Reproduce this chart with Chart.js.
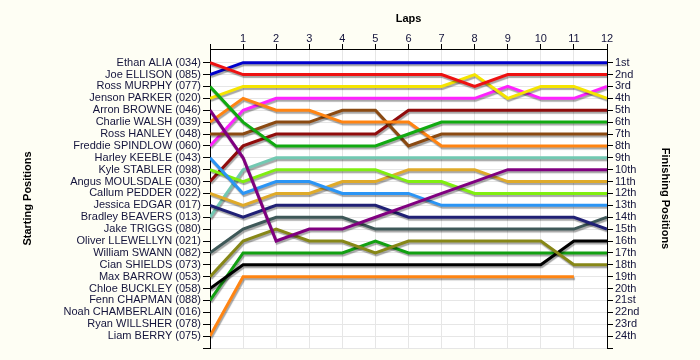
<!DOCTYPE html>
<html>
<head>
<meta charset="utf-8">
<title>Lap Chart</title>
<script src="https://cdn.jsdelivr.net/npm/chart.js@4.4.1/dist/chart.umd.min.js"></script>
<style>
  html, body { margin: 0; padding: 0; background: #fefef4; }
  #wrap { width: 700px; height: 360px; }
</style>
</head>
<body>
<div id="wrap"><canvas id="lapChart" width="700" height="360"></canvas></div>
<script>
// ---------------------------------------------------------------------------
// DATA
// ---------------------------------------------------------------------------

const laps = [0, 1, 2, 3, 4, 5, 6, 7, 8, 9, 10, 11, 12];

// starting grid, position 1 first
const startingNames = [
    'Ethan ALIA (034)', 'Joe ELLISON (085)', 'Ross MURPHY (077)', 'Jenson PARKER (020)',
    'Arron BROWNE (046)', 'Charlie WALSH (039)', 'Ross HANLEY (048)', 'Freddie SPINDLOW (060)',
    'Harley KEEBLE (043)', 'Kyle STABLER (098)', 'Angus MOULSDALE (030)', 'Callum PEDDER (022)',
    'Jessica EDGAR (017)', 'Bradley BEAVERS (013)', 'Jake TRIGGS (080)', 'Oliver LLEWELLYN (021)',
    'William SWANN (082)', 'Cian SHIELDS (073)', 'Max BARROW (053)', 'Chloe BUCKLEY (058)',
    'Fenn CHAPMAN (088)', 'Noah CHAMBERLAIN (016)', 'Ryan WILLSHER (078)', 'Liam BERRY (075)'
];

const finishingLabels = [
    '1st', '2nd', '3rd', '4th', '5th', '6th', '7th', '8th', '9th', '10th', '11th', '12th',
    '13th', '14th', '15th', '16th', '17th', '18th', '19th', '20th', '21st', '22nd', '23rd', '24th'
];

// position at each lap (lap 0 = grid)
const ethanAlia       = [1, 2, 2, 2, 2, 2, 2, 2, 3, 2, 2, 2, 2];
const joeEllison      = [2, 1, 1, 1, 1, 1, 1, 1, 1, 1, 1, 1, 1];
const rossMurphy      = [3, 6, 8, 8, 8, 8, 7, 6, 6, 6, 6, 6, 6];
const jensonParker    = [4, 3, 3, 3, 3, 3, 3, 3, 2, 4, 3, 3, 4];
const arronBrowne     = [5, 9, 16, 15, 15, 14, 13, 12, 11, 10, 10, 10, 10];
const charlieWalsh    = [6, 4, 5, 5, 6, 6, 6, 8, 8, 8, 8, 8, 8];
const rossHanley      = [7, 7, 6, 6, 5, 5, 8, 7, 7, 7, 7, 7, 7];
const freddieSpindlow = [8, 5, 4, 4, 4, 4, 4, 4, 4, 3, 4, 4, 3];
const harleyKeeble    = [9, 12, 11, 11, 12, 12, 12, 13, 13, 13, 13, 13, 13];
const kyleStabler     = [10, 11, 10, 10, 10, 10, 11, 11, 12, 12, 12, 12, 12];
const angusMoulsdale  = [11, 8, 7, 7, 7, 7, 5, 5, 5, 5, 5, 5, 5];
const callumPedder    = [12, 13, 12, 12, 11, 11, 10, 10, 10, 11, 11, 11, 11];
const jessicaEdgar    = [13, 14, 13, 13, 13, 13, 14, 14, 14, 14, 14, 14, 15];
const bradleyBeavers  = [14, 10, 9, 9, 9, 9, 9, 9, 9, 9, 9, 9, 9];
const williamSwann    = [17, 15, 14, 14, 14, 15, 15, 15, 15, 15, 15, 15, 14];
const maxBarrow       = [19, 16, 15, 16, 16, 17, 16, 16, 16, 16, 16, 18, 18];
const chloeBuckley    = [20, 18, 18, 18, 18, 18, 18, 18, 18, 18, 18, 16, 16];
const fennChapman     = [21, 17, 17, 17, 17, 16, 17, 17, 17, 17, 17, 17, 17];
const liamBerry       = [24, 19, 19, 19, 19, 19, 19, 19, 19, 19, 19, 19, null];

const drivers = [
    { name: 'Ethan ALIA (034)',       pos: ethanAlia,       color: '#ee1111' },
    { name: 'Joe ELLISON (085)',      pos: joeEllison,      color: '#0000cc' },
    { name: 'Ross MURPHY (077)',      pos: rossMurphy,      color: '#11aa11' },
    { name: 'Jenson PARKER (020)',    pos: jensonParker,    color: '#f5e400' },
    { name: 'Arron BROWNE (046)',     pos: arronBrowne,     color: '#800080' },
    { name: 'Charlie WALSH (039)',    pos: charlieWalsh,    color: '#ff8412' },
    { name: 'Ross HANLEY (048)',      pos: rossHanley,      color: '#8b4a12' },
    { name: 'Freddie SPINDLOW (060)', pos: freddieSpindlow, color: '#ff22ff' },
    { name: 'Harley KEEBLE (043)',    pos: harleyKeeble,    color: '#2b95f5' },
    { name: 'Kyle STABLER (098)',     pos: kyleStabler,     color: '#80ee10' },
    { name: 'Angus MOULSDALE (030)',  pos: angusMoulsdale,  color: '#900c0c' },
    { name: 'Callum PEDDER (022)',    pos: callumPedder,    color: '#dfaa2a' },
    { name: 'Jessica EDGAR (017)',    pos: jessicaEdgar,    color: '#202075' },
    { name: 'Bradley BEAVERS (013)',  pos: bradleyBeavers,  color: '#72c9b2' },
    { name: 'William SWANN (082)',    pos: williamSwann,    color: '#3e5858' },
    { name: 'Max BARROW (053)',       pos: maxBarrow,       color: '#878717' },
    { name: 'Chloe BUCKLEY (058)',    pos: chloeBuckley,    color: '#000000' },
    { name: 'Fenn CHAPMAN (088)',     pos: fennChapman,     color: '#12a012' },
    { name: 'Liam BERRY (075)',       pos: liamBerry,       color: '#ff8412' }
];

// ---------------------------------------------------------------------------
// PLUGINS
// ---------------------------------------------------------------------------

const plotBackground = {
    id: 'plotBackground',
    beforeDraw(chart) {
        const { ctx, chartArea: a } = chart;
        ctx.save();
        ctx.fillStyle = '#ffffff';
        ctx.fillRect(a.left, a.top, a.right - a.left, a.bottom - a.top);
        ctx.restore();
    }
};

const lineShadow = {
    id: 'lineShadow',
    beforeDatasetsDraw(chart) {
        const ctx = chart.ctx;
        ctx.save();
        ctx.shadowColor = 'rgba(0, 0, 0, 0.35)';
        ctx.shadowOffsetX = 1;
        ctx.shadowOffsetY = 2;
        ctx.shadowBlur = 1;
    },
    afterDatasetsDraw(chart) {
        chart.ctx.restore();
    }
};

// ---------------------------------------------------------------------------
// CHART
// ---------------------------------------------------------------------------

const FONT = "'Liberation Sans', Arial, sans-serif";
const TEXT = '#14143c';
const GRID = '#e6e6e6';
const positionTicks = Array.from({ length: 25 }, (_, i) => i + 1);

Chart.defaults.font.family = FONT;
Chart.defaults.font.size = 11;
Chart.defaults.color = TEXT;

new Chart(document.getElementById('lapChart').getContext('2d'), {
    type: 'line',
    data: {
        datasets: drivers.map(d => ({
            label: d.name,
            data: laps.map((lap, i) => ({ x: lap, y: d.pos[i] })),
            borderColor: d.color,
            backgroundColor: d.color,
            borderWidth: 3,
            pointRadius: 0,
            tension: 0,
            spanGaps: false,
            xAxisID: 'x',
            yAxisID: 'y'
        }))
    },
    options: {
        responsive: false,
        animation: false,
        layout: { padding: { bottom: 12 } },
        plugins: {
            legend: { display: false },
            tooltip: { enabled: false }
        },
        scales: {
            x: {
                type: 'linear',
                position: 'top',
                min: 0,
                max: 12,
                afterBuildTicks: s => { s.ticks = laps.map(v => ({ value: v })); },
                afterFit: s => { s.height = 49; },
                ticks: {
                    callback: v => (v === 0 ? '' : String(v)),
                    padding: -2,
                    autoSkip: false,
                    maxRotation: 0,
                    color: TEXT
                },
                grid: { color: GRID, tickColor: '#000000', tickLength: 5 },
                border: { color: '#000000', width: 1 },
                title: {
                    display: true,
                    text: 'Laps',
                    color: '#000000',
                    font: { weight: 'bold', size: 11 },
                    padding: { top: 12 }
                }
            },
            y: {
                type: 'linear',
                position: 'left',
                reverse: true,
                min: -0.15,
                max: 25,
                afterBuildTicks: s => { s.ticks = positionTicks.map(v => ({ value: v })); },
                afterFit: s => { s.width = 210; },
                ticks: {
                    callback: v => startingNames[v - 1] || '',
                    padding: 2,
                    autoSkip: false,
                    color: TEXT
                },
                grid: { color: GRID, tickColor: '#000000', tickLength: 7 },
                border: { color: '#000000', width: 1 },
                title: {
                    display: true,
                    text: 'Starting Positions',
                    color: '#000000',
                    font: { weight: 'bold', size: 11 },
                    padding: { top: 21 }
                }
            },
            y2: {
                type: 'linear',
                position: 'right',
                reverse: true,
                min: -0.15,
                max: 25,
                afterBuildTicks: s => { s.ticks = positionTicks.map(v => ({ value: v })); },
                afterFit: s => { s.width = 93; },
                ticks: {
                    callback: v => finishingLabels[v - 1] || '',
                    padding: 2,
                    autoSkip: false,
                    color: TEXT
                },
                grid: { drawOnChartArea: false, tickColor: '#000000', tickLength: 6 },
                border: { color: '#000000', width: 1 },
                title: {
                    display: true,
                    text: 'Finishing Positions',
                    color: '#000000',
                    font: { weight: 'bold', size: 11 },
                    padding: { top: 28 }
                }
            }
        }
    },
    plugins: [plotBackground, lineShadow]
});
</script>
</body>
</html>
